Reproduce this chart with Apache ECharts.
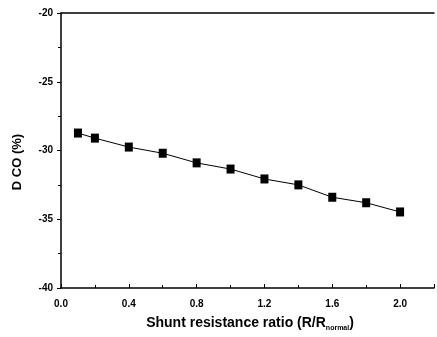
<!DOCTYPE html>
<html><head><meta charset="utf-8">
<script src="https://cdn.jsdelivr.net/npm/echarts@6/dist/echarts.min.js"></script>
<style>html,body{margin:0;padding:0;background:#fff}#c{width:437px;height:337px}</style>
</head><body><div id="c"></div>
<script>
var ratios = [0.1, 0.2, 0.4, 0.6, 0.8, 1.0, 1.2, 1.4, 1.6, 1.8, 2.0];
var dco = [-28.73, -29.1, -29.75, -30.2, -30.9, -31.35, -32.07, -32.5, -33.4, -33.8, -34.47];
var xTicks = [0.0, 0.4, 0.8, 1.2, 1.6, 2.0];
var yTicks = [-20, -25, -30, -35, -40];

var chart = echarts.init(document.getElementById('c'), null, {renderer: 'canvas'});
var font = '"Liberation Sans", Arial, sans-serif';
chart.setOption({
  animation: false,
  backgroundColor: '#fff',
  grid: {left: 61, top: 13, width: 378, height: 275},
  xAxis: [{
    type: 'value', min: 0, max: 2.2, interval: 0.4, position: 'bottom',
    axisLine: {onZero: false, lineStyle: {color: '#000', width: 1.5}},
    axisTick: {inside: true, length: 4, lineStyle: {color: '#000', width: 1}},
    minorTick: {show: true, splitNumber: 2, length: 3, lineStyle: {color: '#000'}},
    splitLine: {show: false},
    axisLabel: {
      color: '#000', fontFamily: font, fontWeight: 'bold', fontSize: 10, margin: 11,
      formatter: function (v) { return xTicks.some(function (t) { return Math.abs(t - v) < 1e-6; }) ? v.toFixed(1) : ''; }
    }
  }, {
    type: 'value', min: 0, max: 2.2, position: 'top',
    axisLine: {onZero: false, lineStyle: {color: '#000', width: 1.5}},
    axisTick: {show: false}, axisLabel: {show: false}, splitLine: {show: false}
  }],
  yAxis: {
    type: 'value', min: -40, max: -20, interval: 5,
    axisLine: {onZero: false, lineStyle: {color: '#000', width: 1.5}},
    axisTick: {inside: false, length: 4, lineStyle: {color: '#000'}},
    minorTick: {show: true, splitNumber: 2, length: 3, lineStyle: {color: '#000'}},
    splitLine: {show: false},
    axisLabel: {
      color: '#000', fontFamily: font, fontWeight: 'bold', fontSize: 10, margin: 8,
      formatter: function (v) { return yTicks.indexOf(v) >= 0 ? String(v) : ''; }
    }
  },
  graphic: [{
    type: 'text', x: 250, y: 323,
    style: {
      text: '{a|Shunt resistance ratio (R/R}{s|normal}{a|)}',
      align: 'center', verticalAlign: 'middle',
      rich: {
        a: {fontFamily: font, fontSize: 14, fontWeight: 'bold', fill: '#000'},
        s: {fontFamily: font, fontSize: 7, fontWeight: 'bold', fill: '#000', padding: [10, 0, 0, 0]}
      }
    }
  }, {
    type: 'text', x: 17, y: 162, rotation: Math.PI / 2,
    style: {
      text: 'D CO (%)', fontFamily: font, fontSize: 13, fontWeight: 'bold', fill: '#000',
      align: 'center', verticalAlign: 'middle'
    }
  }],
  series: [{
    type: 'line', xAxisIndex: 0,
    data: ratios.map(function (r, i) { return [r, dco[i]]; }),
    symbol: 'rect', symbolSize: [8, 9],
    itemStyle: {color: '#000'},
    lineStyle: {color: '#000', width: 1}
  }]
});
</script></body></html>
